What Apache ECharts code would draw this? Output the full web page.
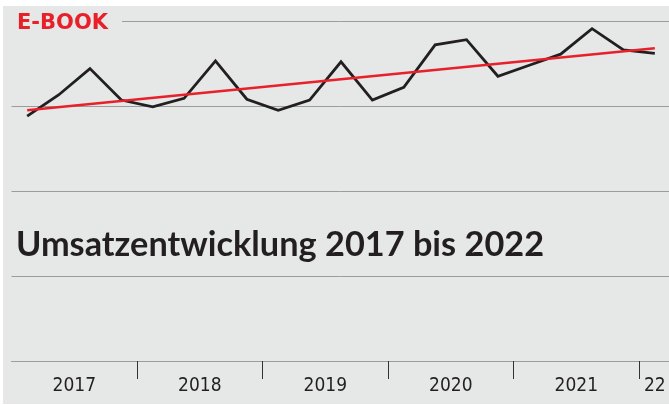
<!DOCTYPE html>
<html>
<head>
<meta charset="utf-8">
<script src="https://cdn.jsdelivr.net/npm/echarts@6/dist/echarts.min.js"></script>
<style>
  html, body { margin: 0; padding: 0; background: #fff; }
  #bg { position: absolute; left: 3px; top: 6px; width: 666px; height: 398px; background: #e5e8e6; }
  #chart { position: absolute; left: 0; top: 0; width: 669px; height: 405px; }
</style>
</head>
<body>
<div id="bg"></div>
<div id="chart"></div>
<script>
// Quartale 2017 Q1 bis 2022 Q1
const quarters = [
  "2017 Q1", "2017 Q2", "2017 Q3", "2017 Q4",
  "2018 Q1", "2018 Q2", "2018 Q3", "2018 Q4",
  "2019 Q1", "2019 Q2", "2019 Q3", "2019 Q4",
  "2020 Q1", "2020 Q2", "2020 Q3", "2020 Q4",
  "2021 Q1", "2021 Q2", "2021 Q3", "2021 Q4",
  "2022 Q1"
]
// Umsatz E-Book (Index)
const umsatz = [288, 313, 344, 307, 299, 309, 353, 308, 295, 307, 352, 307, 322, 372, 378, 335, 348, 361, 391, 366, 362]
// Trendlinie: Anfang und Ende
const trendEnds = [295, 368]
// Jahresbeschriftung
const yearLabels = ["2017", "2018", "2019", "2020", "2021", "22"]
const yearLabelPos = [2, 6, 10, 14, 18, 20.5]

const gridColor = "#9b9d9b"
const ink = "#231f20"
const red = "#e8202a"

let chart = echarts.init(document.getElementById("chart"))
let option = {
  animation: false,
  grid: { left: 11.5, width: 659, top: 21, bottom: 44, containLabel: false, outerBoundsMode: "none" },
  graphic: [
    {
      type: "rect",
      z: 100,
      shape: { x: 8, y: 12, width: 114, height: 19 },
      style: { fill: "#e5e8e6" },
    },
    {
      type: "text",
      z: 101,
      left: 17,
      top: 13,
      style: {
        text: "E-BOOK",
        fill: red,
        font: "bold 21px 'DejaVu Sans'",
      },
    },
    {
      type: "text",
      z: 101,
      left: 16,
      top: 228,
      style: {
        text: "Umsatzentwicklung 2017 bis 2022",
        fill: ink,
        font: "bold 34.3px Lato",
      },
    },
  ],
  xAxis: [
    {
      type: "category",
      data: quarters,
      boundaryGap: true,
      axisLine: { show: true, lineStyle: { color: gridColor, width: 1 } },
      axisTick: {
        show: true,
        length: 18,
        interval: function (index) {
          return index > 0 && index % 4 === 0
        },
        lineStyle: { color: "#333", width: 1 },
      },
      axisLabel: { show: false },
    },
    {
      type: "value",
      position: "bottom",
      min: 0,
      max: 21,
      interval: 0.5,
      axisLine: { show: false },
      axisTick: { show: false },
      splitLine: { show: false },
      axisLabel: {
        show: true,
        margin: 16,
        color: ink,
        fontSize: 19,
        fontFamily: "'Liberation Sans Narrow', 'DejaVu Sans Condensed', sans-serif",
        formatter: function (v) {
          const i = yearLabelPos.findIndex(function (p) { return Math.abs(p - v) < 0.01 })
          return i >= 0 ? yearLabels[i] : ""
        },
      },
    },
  ],
  yAxis: {
    type: "value",
    min: 0,
    max: 400,
    interval: 100,
    axisLine: { show: false },
    axisTick: { show: false },
    axisLabel: { show: false },
    splitLine: { show: true, lineStyle: { color: gridColor, width: 1 } },
  },
  series: [
    {
      name: "Umsatz",
      type: "line",
      data: umsatz,
      symbol: "none",
      lineStyle: { color: ink, width: 2.8, join: "miter" },
      z: 3,
    },
    {
      name: "Trend",
      type: "line",
      data: [[0, trendEnds[0]], [quarters.length - 1, trendEnds[1]]],
      symbol: "none",
      lineStyle: { color: red, width: 2.6 },
      z: 4,
    },
  ],
}
chart.setOption(option)
</script>
</body>
</html>
